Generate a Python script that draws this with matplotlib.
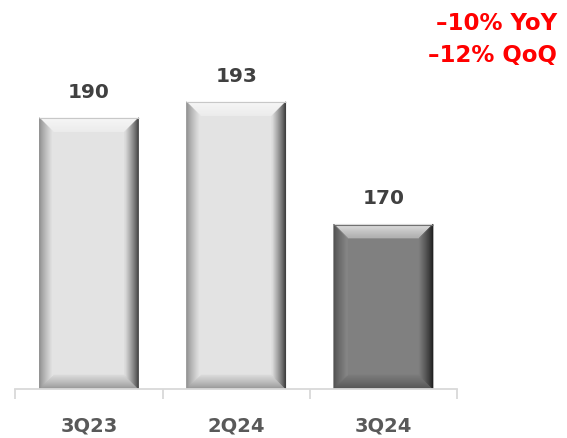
import numpy as np
import matplotlib.pyplot as plt
from matplotlib.patches import Polygon
from matplotlib.colors import to_rgb

quarters = ['3Q23', '2Q24', '3Q24']
values = [190, 193, 170]
face_colors = ['#e3e3e3', '#e3e3e3', '#808080']
change_notes = ['–10% YoY', '–12% QoQ']

plt.rcParams['font.family'] = ['DejaVu Sans']

fig = plt.figure(figsize=(5.67, 4.39), dpi=100)
ax = fig.add_axes([0.027, 0.1116, 0.779, 0.8884])

x = np.arange(len(quarters))
bars = ax.bar(x, values, width=0.675, color=face_colors, edgecolor='none', zorder=2)
ax.set_xlim(-0.5, len(quarters) - 0.5)
ax.set_ylim(139, 212.3)


def blend(c1, c2, t):
    a, b = np.array(to_rgb(c1)), np.array(to_rgb(c2))
    return tuple(a + (b - a) * t)


def bevel(rect, face, size=14, steps=14):
    # outer rectangle in pixels, clipped to the plotting area
    y_lo = max(rect.get_y(), ax.get_ylim()[0])
    (x0, y0), (x1, y1) = ax.transData.transform(
        [(rect.get_x(), y_lo), (rect.get_x() + rect.get_width(), rect.get_y() + rect.get_height())])
    sides = {
        'top': (blend(face, 'white', 0.8), blend(face, 'white', 0.4)),
        'left': (blend(face, 'black', 0.40), blend(face, 'white', 0.05)),
        'right': (blend(face, 'black', 0.78), blend(face, 'black', 0.04)),
        'bottom': (blend(face, 'black', 0.35), blend(face, 'black', 0.05)),
    }
    inv = ax.transData.inverted()
    for i in range(steps):
        d1, d2 = size * i / steps, size * (i + 1) / steps
        t = i / (steps - 1)
        quads = {
            'left': [(x0 + d1, y0 + d1), (x0 + d1, y1 - d1), (x0 + d2, y1 - d2), (x0 + d2, y0 + d2)],
            'right': [(x1 - d1, y0 + d1), (x1 - d1, y1 - d1), (x1 - d2, y1 - d2), (x1 - d2, y0 + d2)],
            'top': [(x0 + d1, y1 - d1), (x1 - d1, y1 - d1), (x1 - d2, y1 - d2), (x0 + d2, y1 - d2)],
            'bottom': [(x0 + d1, y0 + d1), (x1 - d1, y0 + d1), (x1 - d2, y0 + d2), (x0 + d2, y0 + d2)],
        }
        for side in ['top', 'bottom', 'left', 'right']:
            c_out, c_in = sides[side]
            col = blend(c_out, c_in, t ** 0.8)
            ax.add_patch(Polygon(inv.transform(quads[side]), closed=True, facecolor=col,
                                 edgecolor=col, linewidth=0.3, zorder=3))
    # thin outline along the top edge
    edge = inv.transform([(x0, y1 - 0.5), (x1, y1 - 0.5)])
    ax.plot(edge[:, 0], edge[:, 1], color=blend(face, 'black', 0.12), lw=0.8,
            zorder=4, solid_capstyle='butt')


for rect, face, v in zip(bars, face_colors, values):
    bevel(rect, face)
    ax.annotate(f'{v}', (rect.get_x() + rect.get_width() / 2, v), xytext=(0, 15),
                textcoords='offset points', ha='center', va='baseline',
                fontsize=14.5, fontweight='bold', color='#404040')

for side in ['top', 'left', 'right']:
    ax.spines[side].set_visible(False)
ax.spines['bottom'].set_color('#d9d9d9')
ax.spines['bottom'].set_linewidth(1.3)
ax.spines['bottom'].set_zorder(5)
ax.set_yticks([])
ax.set_xticks(x)
ax.set_xticklabels(quarters, fontsize=14, fontweight='bold', color='#595959')
ax.tick_params(axis='x', which='major', length=0, pad=19)
ax.set_xticks(np.arange(len(quarters) + 1) - 0.5, minor=True)
ax.tick_params(axis='x', which='minor', length=7, width=1.3, color='#d9d9d9', direction='out')

fig.text(0.982, 1 - 30 / 439, change_notes[0], ha='right', va='baseline',
         fontsize=16.5, fontweight='bold', color='#ff0000')
fig.text(0.982, 1 - 62 / 439, change_notes[1], ha='right', va='baseline',
         fontsize=16.5, fontweight='bold', color='#ff0000')

fig.savefig('out.png', dpi=100)
